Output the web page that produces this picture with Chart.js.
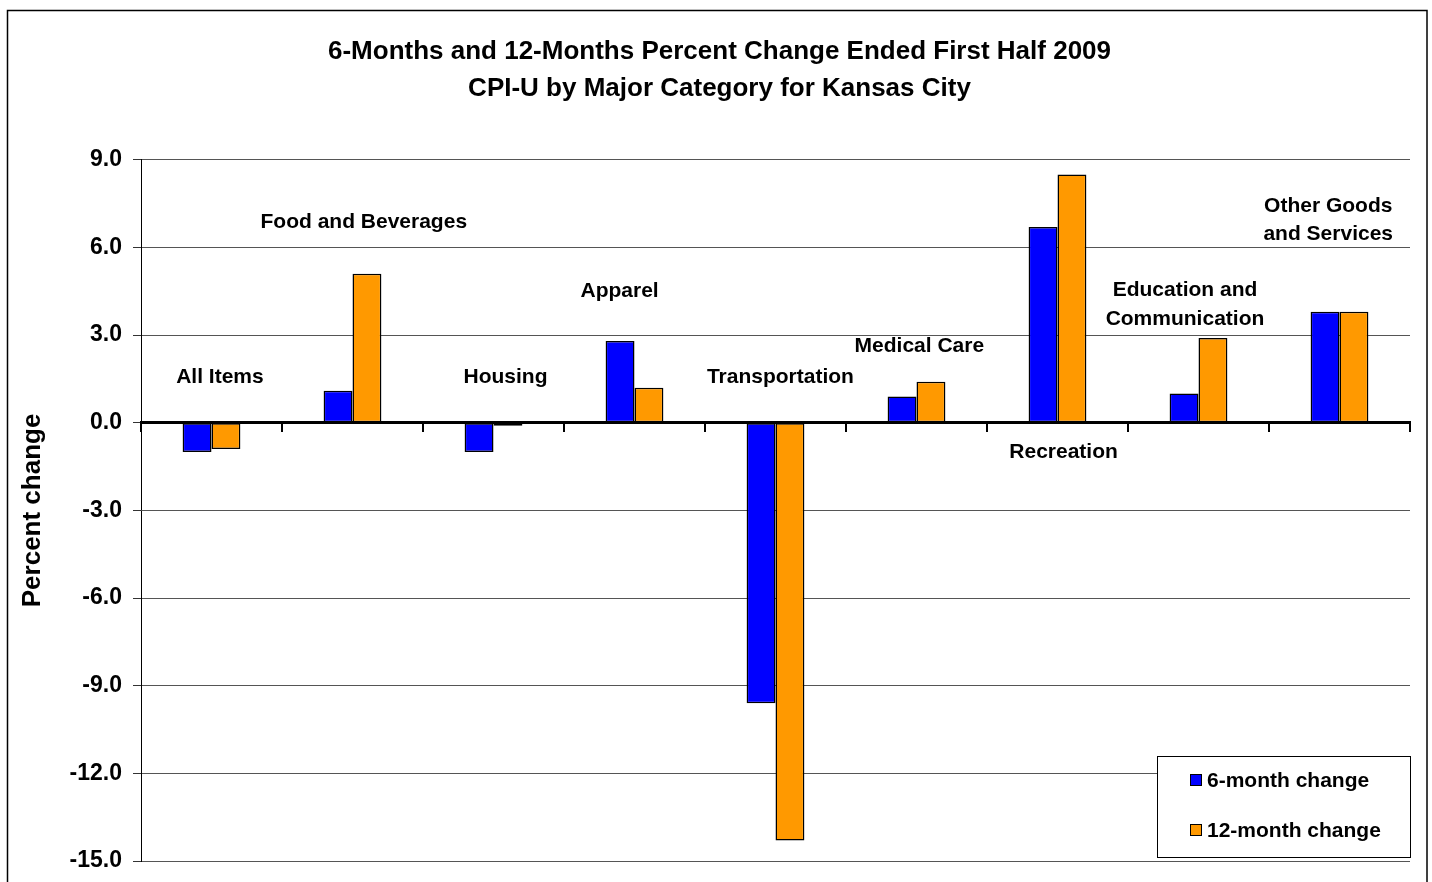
<!DOCTYPE html>
<html>
<head>
<meta charset="utf-8">
<script src="https://cdn.jsdelivr.net/npm/chart.js@4/dist/chart.umd.min.js"></script>
<style>
  html, body { margin: 0; padding: 0; background: #ffffff; }
  #wrap { width: 1432px; height: 882px; position: relative; }
</style>
</head>
<body>
<div id="wrap"><canvas id="c" width="1432" height="882"></canvas></div>
<script>
const FONT = "'Liberation Sans', Arial, Helvetica, sans-serif";

// ---- data ----
const categories = ['All Items', 'Food and Beverages', 'Housing', 'Apparel', 'Transportation',
  'Medical Care', 'Recreation', 'Education and Communication', 'Other Goods and Services'];
const categoryLabelLines = [['All Items'], ['Food and Beverages'], ['Housing'], ['Apparel'],
  ['Transportation'], ['Medical Care'], ['Recreation'], ['Education and', 'Communication'],
  ['Other Goods', 'and Services']];
const sixMonthChange = [-1.0, 1.1, -1.0, 2.8, -9.6, 0.9, 6.7, 1.0, 3.8];
const twelveMonthChange = [-0.9, 5.1, -0.1, 1.2, -14.3, 1.4, 8.5, 2.9, 3.8];
const seriesNames = ['6-month change', '12-month change'];
const titleLines = ['6-Months and 12-Months Percent Change Ended First Half 2009',
  'CPI-U by Major Category for Kansas City'];
const yAxisTitle = 'Percent change';
const yMin = -15, yMax = 9, yStep = 3;

// label anchor positions (category offset, value) for the in-plot category labels
const labelAnchors = [
  { dx: 0.06, y: 1.55 }, { dx: 0.08, y: 6.85 }, { dx: 0.085, y: 1.55 }, { dx: -0.106, y: 4.52 },
  { dx: 0.035, y: 1.55 }, { dx: 0.02, y: 2.61 }, { dx: 0.043, y: -1.02 }, { dx: -0.096, y: 4.04 },
  { dx: -0.08, y: 6.93 }
];

const categoryLabelPlugin = {
  id: 'catLabels',
  afterDatasetsDraw(chart, args, opts) {
    const { ctx, scales: { x, y } } = chart;
    ctx.save();
    ctx.font = 'bold 21px ' + FONT;
    ctx.fillStyle = '#000';
    ctx.textAlign = 'center';
    ctx.textBaseline = 'middle';
    categoryLabelLines.forEach((lines, i) => {
      const a = opts.anchors[i];
      const cx = x.getPixelForValue(i + a.dx);
      const cy = y.getPixelForValue(a.y);
      lines.forEach((t, j) => {
        ctx.fillText(t, cx, cy + (j - (lines.length - 1) / 2) * opts.lineHeight);
      });
    });
    ctx.restore();
  }
};

const boxLegendPlugin = {
  id: 'boxLegend',
  afterDraw(chart, args, opts) {
    const { ctx, chartArea } = chart;
    const w = opts.width, h = opts.height;
    const left = chartArea.right - w;
    const top = chartArea.bottom - opts.bottomGap - h;
    ctx.save();
    ctx.fillStyle = '#fff';
    ctx.fillRect(left, top, w, h);
    ctx.strokeStyle = '#000';
    ctx.lineWidth = 1;
    ctx.strokeRect(Math.round(left) + 0.5, Math.round(top) + 0.5, w, h);
    ctx.font = 'bold 21px ' + FONT;
    ctx.textBaseline = 'middle';
    ctx.textAlign = 'left';
    chart.data.datasets.forEach((ds, i) => {
      const cy = top + opts.firstRow + i * opts.rowGap;
      ctx.fillStyle = ds.backgroundColor;
      ctx.fillRect(left + 33, cy - 6, 12, 12);
      ctx.strokeStyle = '#000';
      ctx.lineWidth = 1;
      ctx.strokeRect(left + 33.5, cy - 5.5, 11, 11);
      ctx.fillStyle = '#000';
      ctx.fillText(ds.label, left + 50, cy + 1);
    });
    ctx.restore();
  }
};

const frameBorderPlugin = {
  id: 'frameBorder',
  afterDraw(chart) {
    const ctx = chart.ctx;
    ctx.save();
    ctx.strokeStyle = '#000';
    ctx.lineWidth = 1.5;
    ctx.strokeRect(7.5, 10.5, 1419.5, 900);
    ctx.restore();
  }
};

new Chart(document.getElementById('c'), {
  type: 'bar',
  data: {
    labels: categories,
    datasets: [
      { label: seriesNames[0], data: sixMonthChange, backgroundColor: '#0000FF',
        borderColor: '#000', borderWidth: 1.5, borderSkipped: false },
      { label: seriesNames[1], data: twelveMonthChange, backgroundColor: '#FF9900',
        borderColor: '#000', borderWidth: 1.5, borderSkipped: false }
    ]
  },
  plugins: [categoryLabelPlugin, boxLegendPlugin, frameBorderPlugin],
  options: {
    responsive: false,
    animation: false,
    categoryPercentage: 0.41,
    barPercentage: 1.0,
    layout: { padding: { left: 29, right: 22, top: 0, bottom: 21 } },
    plugins: {
      legend: { display: false },
      tooltip: { enabled: false },
      title: {
        display: true,
        text: titleLines,
        color: '#000',
        font: { family: FONT, size: 26, weight: 'bold', lineHeight: 1.42 },
        padding: { top: 33, bottom: 53 }
      },
      catLabels: { anchors: labelAnchors, lineHeight: 28.5 },
      boxLegend: { width: 253, height: 101, bottomGap: 4, firstRow: 24, rowGap: 50 }
    },
    scales: {
      x: {
        position: { y: 0 },
        offset: true,
        z: 1,
        ticks: { display: false },
        grid: { display: true, drawOnChartArea: false, drawTicks: true, tickLength: 8,
                color: '#000', lineWidth: 2, offset: true },
        border: { display: true, color: '#000', width: 3 }
      },
      y: {
        min: yMin, max: yMax,
        ticks: { stepSize: yStep, callback: v => v.toFixed(1), color: '#000',
                 font: { family: FONT, size: 23, weight: 'bold' }, padding: 11 },
        grid: { color: '#555', lineWidth: 1, tickLength: 8, tickColor: '#333' },
        border: { color: '#000', width: 1 },
        title: { display: true, text: yAxisTitle, color: '#000',
                 font: { family: FONT, size: 26, weight: 'bold', lineHeight: 1.2 },
                 padding: { top: -12, bottom: 0 } },
        afterFit(scale) {
          scale.width = 112;
          scale.paddingTop = 0;
          scale.paddingBottom = 0;
        }
      }
    }
  }
});
</script>
</body>
</html>
